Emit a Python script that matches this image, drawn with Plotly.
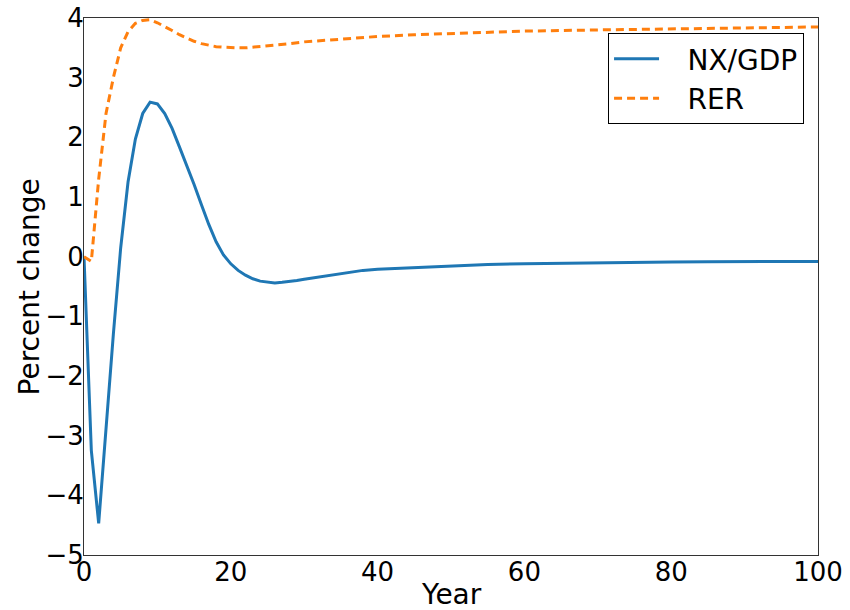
import plotly.graph_objects as go

years_nx = list(range(0, 31)) + [32, 34, 36, 38, 40, 45, 50, 55, 60, 65, 70, 75, 80, 85, 90, 95, 100]
nx_gdp = [0.0, -3.25, -4.47, -2.85, -1.30, 0.15, 1.25, 1.97, 2.40, 2.59, 2.56, 2.40, 2.15, 1.84, 1.53,
          1.21, 0.87, 0.54, 0.25, 0.03, -0.12, -0.23, -0.31, -0.37, -0.41, -0.43, -0.44, -0.43, -0.42,
          -0.40, -0.38,
          -0.34, -0.30, -0.26, -0.23, -0.21, -0.18, -0.15, -0.13, -0.12, -0.11, -0.10, -0.095, -0.09,
          -0.085, -0.08, -0.08, -0.08]

years_rer = list(range(0, 27)) + [28, 30, 35, 40, 45, 50, 55, 60, 70, 80, 90, 100]
rer = [0.0, -0.08, 1.30, 2.40, 3.00, 3.50, 3.77, 3.91, 3.96, 3.97, 3.92, 3.86, 3.79, 3.72, 3.66,
       3.61, 3.57, 3.54, 3.52, 3.51, 3.50, 3.50, 3.50, 3.51, 3.52, 3.53, 3.54,
       3.57, 3.60, 3.65, 3.69, 3.72, 3.74, 3.76, 3.78, 3.80, 3.82, 3.84, 3.85]

x_ticks = [0, 20, 40, 60, 80, 100]
y_ticks = [-5, -4, -3, -2, -1, 0, 1, 2, 3, 4]
y_tick_text = ["\u2212" + str(-v) if v < 0 else str(v) for v in y_ticks]
series_names = ["\u00a0\u00a0\u2009NX/GDP", "\u00a0\u00a0\u2009RER"]
x_title = "Year"
y_title = "Percent change"

fig = go.Figure()
fig.add_trace(go.Scatter(x=years_nx, y=nx_gdp, mode="lines", name=series_names[0],
                         line=dict(color="#1f77b4", width=3)))
fig.add_trace(go.Scatter(x=years_rer, y=rer, mode="lines", name=series_names[1],
                         line=dict(color="#ff7f0e", width=3, dash="8px,5px")))

tick_font = dict(family="DejaVu Sans", size=26, color="black")
title_font = dict(family="DejaVu Sans", size=28, color="black")
fig.update_layout(
    width=850, height=610,
    margin=dict(l=84, r=32, t=18, b=55, autoexpand=False),
    paper_bgcolor="white", plot_bgcolor="white",
    font=title_font,
    showlegend=True,
    legend=dict(x=0.981, y=0.972, xanchor="right", yanchor="top",
                bordercolor="black", borderwidth=1, bgcolor="white",
                font=dict(family="DejaVu Sans", size=28, color="black"),
                itemwidth=45, tracegroupgap=0),
    annotations=[
        dict(text=x_title, xref="paper", yref="paper", x=0.5, y=-0.073,
             xanchor="center", yanchor="middle", showarrow=False, font=title_font),
        dict(text=y_title, xref="paper", yref="paper", x=-0.0736, y=0.5, textangle=-90,
             xanchor="center", yanchor="middle", showarrow=False, font=title_font),
    ],
)
fig.update_xaxes(range=[0, 100], tickvals=x_ticks, ticks="", showgrid=False, zeroline=False,
                 showline=True, linecolor="#333333", linewidth=1, mirror=True, automargin=False,
                 ticklabelstandoff=-6, tickfont=tick_font)
fig.update_yaxes(range=[-5, 4], tickvals=y_ticks, ticktext=y_tick_text, ticks="", showgrid=False,
                 zeroline=False, showline=True, linecolor="#333333", linewidth=1, mirror=True,
                 automargin=False, ticklabelstandoff=-6, tickfont=tick_font)

fig.write_html("out.html")
